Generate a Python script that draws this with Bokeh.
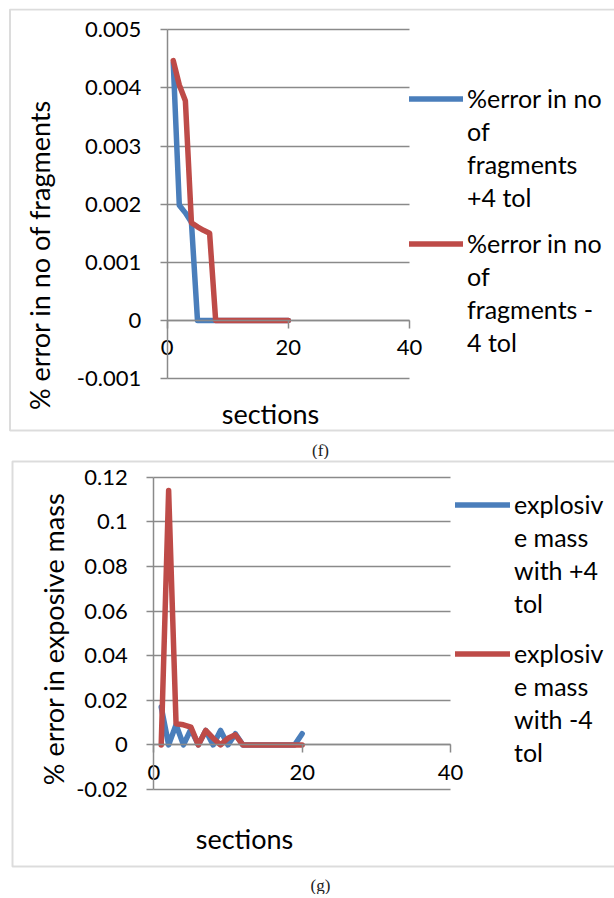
import math
from bokeh.plotting import figure
from bokeh.models import (FixedTicker, NumeralTickFormatter, Legend, LegendItem,
                          Label, BoxAnnotation)
from bokeh.layouts import column
from bokeh.embed import file_html
from bokeh.resources import INLINE

# ---------------- data ----------------
sections = list(range(1, 21))

f_plus = [0.00443, 0.00198, 0.00185, 0.00169, 0.0, 0.0, 0.0, 0.0, 0.0, 0.0,
          0.0, 0.0, 0.0, 0.0, 0.0, 0.0, 0.0, 0.0, 0.0, 0.0]
f_minus = [0.00447, 0.00405, 0.00378, 0.00168, 0.00161, 0.00155, 0.00150, 0.0, 0.0, 0.0,
           0.0, 0.0, 0.0, 0.0, 0.0, 0.0, 0.0, 0.0, 0.0, 0.0]

g_plus = [0.017, 0.0, 0.009, 0.0, 0.007, 0.0, 0.0065, 0.0, 0.0065, 0.0,
          0.005, 0.0, 0.0, 0.0, 0.0, 0.0, 0.0, 0.0, 0.0, 0.005]
g_minus = [0.0, 0.114, 0.0095, 0.009, 0.008, 0.0, 0.0065, 0.003, 0.0, 0.003,
           0.0045, 0.0, 0.0, 0.0, 0.0, 0.0, 0.0, 0.0, 0.0, 0.0]

x_ticks = [0, 20, 40]
f_yticks = [-0.001, 0.0, 0.001, 0.002, 0.003, 0.004, 0.005]
g_yticks = [-0.02, 0.0, 0.02, 0.04, 0.06, 0.08, 0.10, 0.12]

f_leg_plus = ["%error in no", "of", "fragments", "+4 tol"]
f_leg_minus = ["%error in no", "of", "fragments -", "4 tol"]
g_leg_plus = ["explosiv", "e mass", "with +4", "tol"]
g_leg_minus = ["explosiv", "e mass", "with -4", "tol"]

f_ytitle = "% error in no of  fragments"
g_ytitle = "% error in exposive mass"
x_title = "sections"
f_caption = "(f)"
g_caption = "(g)"

# ---------------- style ----------------
BLUE = "#4a7ebb"
RED = "#be4b48"
GREY = "#8a8a8a"
FONT = "Lato"
W = 606


def lin_range(p_a, v_a, p_b, v_b, p_lo, p_hi):
    """value range shown between pixels p_lo and p_hi, given two anchors"""
    k = (v_b - v_a) / (p_b - p_a)
    return (v_a + (p_lo - p_a) * k, v_a + (p_hi - p_a) * k)


def make_chart(H, xpix, ypix, yticks, fmt, plus, minus,
               leg_plus, leg_minus, leg_x, leg_y_plus, leg_y_minus, glyph_w,
               ytitle, ytitle_xy, xtitle_xy, caption, caption_xy, box):
    # xpix: canvas pixel of x=0 and x=40 ; ypix: canvas pixel of top/bottom tick
    x0, x1 = lin_range(xpix[0], 0, xpix[1], 40, 0, W)
    y0, y1 = lin_range(ypix[1], yticks[0], ypix[0], yticks[-1], H, 0)
    p = figure(width=W, height=H, x_range=(x0, x1), y_range=(y0, y1),
               output_backend="svg", toolbar_location=None)
    p.min_border = 0
    p.min_border_left = 0
    p.min_border_right = 0
    p.min_border_top = 0
    p.min_border_bottom = 0
    p.title.visible = False
    p.outline_line_color = None
    p.background_fill_color = "white"
    p.border_fill_color = "white"

    # axes crossing at the origin
    p.xaxis.fixed_location = 0
    p.yaxis.fixed_location = 0
    p.xaxis.bounds = (0, 40)
    p.yaxis.bounds = (yticks[0], yticks[-1])
    p.xaxis.ticker = FixedTicker(ticks=x_ticks)
    p.yaxis.ticker = FixedTicker(ticks=yticks)
    p.yaxis.formatter = NumeralTickFormatter(format=fmt)
    for ax in (p.xaxis, p.yaxis):
        ax.axis_line_color = GREY
        ax.axis_line_width = 1.5
        ax.major_tick_line_color = GREY
        ax.major_tick_line_width = 1.5
        ax.major_tick_in = 0
        ax.minor_tick_in = 0
        ax.minor_tick_out = 0
        ax.major_label_text_font = FONT
        ax.major_label_text_font_size = "22px"
        ax.major_label_text_color = "black"
    p.xaxis.major_tick_out = 8
    p.xaxis.major_label_standoff = 12
    p.yaxis.major_tick_out = 7
    p.yaxis.major_label_standoff = 19

    p.xgrid.visible = False
    p.ygrid.ticker = FixedTicker(ticks=yticks)
    p.ygrid.grid_line_color = GREY
    p.ygrid.grid_line_width = 1.5
    try:
        p.ygrid.cross_bounds = (0, 40)
    except AttributeError:
        p.ygrid.visible = False
        p.segment(x0=[0] * len(yticks), x1=[40] * len(yticks), y0=yticks,
                  y1=yticks, line_color=GREY, line_width=1.5)

    # chart border
    p.add_layout(BoxAnnotation(left=box[0], right=W + 50, top=box[1], bottom=box[2],
                               left_units="screen", right_units="screen",
                               top_units="screen", bottom_units="screen",
                               fill_alpha=0, line_color="#8c8c8c", line_width=2))

    # series
    r_plus = p.line(sections, plus, line_color=BLUE, line_width=5.5,
                    line_join="round", line_cap="round")
    r_minus = p.line(sections, minus, line_color=RED, line_width=5.5,
                     line_join="round", line_cap="round")
    ghost = p.line(x=[], y=[], line_alpha=0)

    def legend(lines, rend, vy):
        items = [LegendItem(label=lines[0], renderers=[rend])]
        items += [LegendItem(label=t, renderers=[ghost]) for t in lines[1:]]
        lg = Legend(items=items, location=(leg_x, vy), orientation="vertical",
                    padding=0, margin=0, spacing=0,
                    glyph_width=glyph_w, glyph_height=33, label_height=33,
                    label_standoff=4, label_text_font=FONT,
                    label_text_font_size="25px", label_text_color="black",
                    border_line_color=None, background_fill_alpha=0)
        p.add_layout(lg)

    legend(leg_plus, r_plus, leg_y_plus)
    legend(leg_minus, r_minus, leg_y_minus)

    p.add_layout(Label(x=ytitle_xy[0], y=ytitle_xy[1], x_units="screen",
                       y_units="screen", text=ytitle, angle=math.pi / 2,
                       text_align="center", text_baseline="middle",
                       text_font=FONT, text_font_size="27px",
                       text_color="black"))
    p.add_layout(Label(x=xtitle_xy[0], y=xtitle_xy[1], x_units="screen",
                       y_units="screen", text=x_title,
                       text_align="center", text_baseline="middle",
                       text_font=FONT, text_font_size="27px",
                       text_color="black"))
    p.add_layout(Label(x=caption_xy[0], y=caption_xy[1], x_units="screen",
                       y_units="screen", text=caption,
                       text_align="center", text_baseline="middle",
                       text_font="Liberation Serif", text_font_size="17px",
                       text_color="#222222"))
    return p


fig_f = make_chart(451, (158.7, 401.0), (21.3, 370.0), f_yticks, "0.[000]",
                   f_plus, f_minus, f_leg_plus, f_leg_minus,
                   401, 245.5, 100.5, 54,
                   f_ytitle, (31, 208), (262, 46), f_caption, (312, 9),
                   (1.5, 450, 29))

fig_g = make_chart(435, (145.3, 442.0), (17.7, 330.0), g_yticks, "0.[00]",
                   g_plus, g_minus, g_leg_plus, g_leg_minus,
                   447, 274.5, 125.5, 55,
                   g_ytitle, (45, 255.5), (236, 56), g_caption, (312, 9),
                   (4, 433, 28))

layout = column(fig_f, fig_g, spacing=0)
layout.margin = (8, 0, 0, 8)

with open("out.html", "w") as fh:
    fh.write(file_html(layout, INLINE))
